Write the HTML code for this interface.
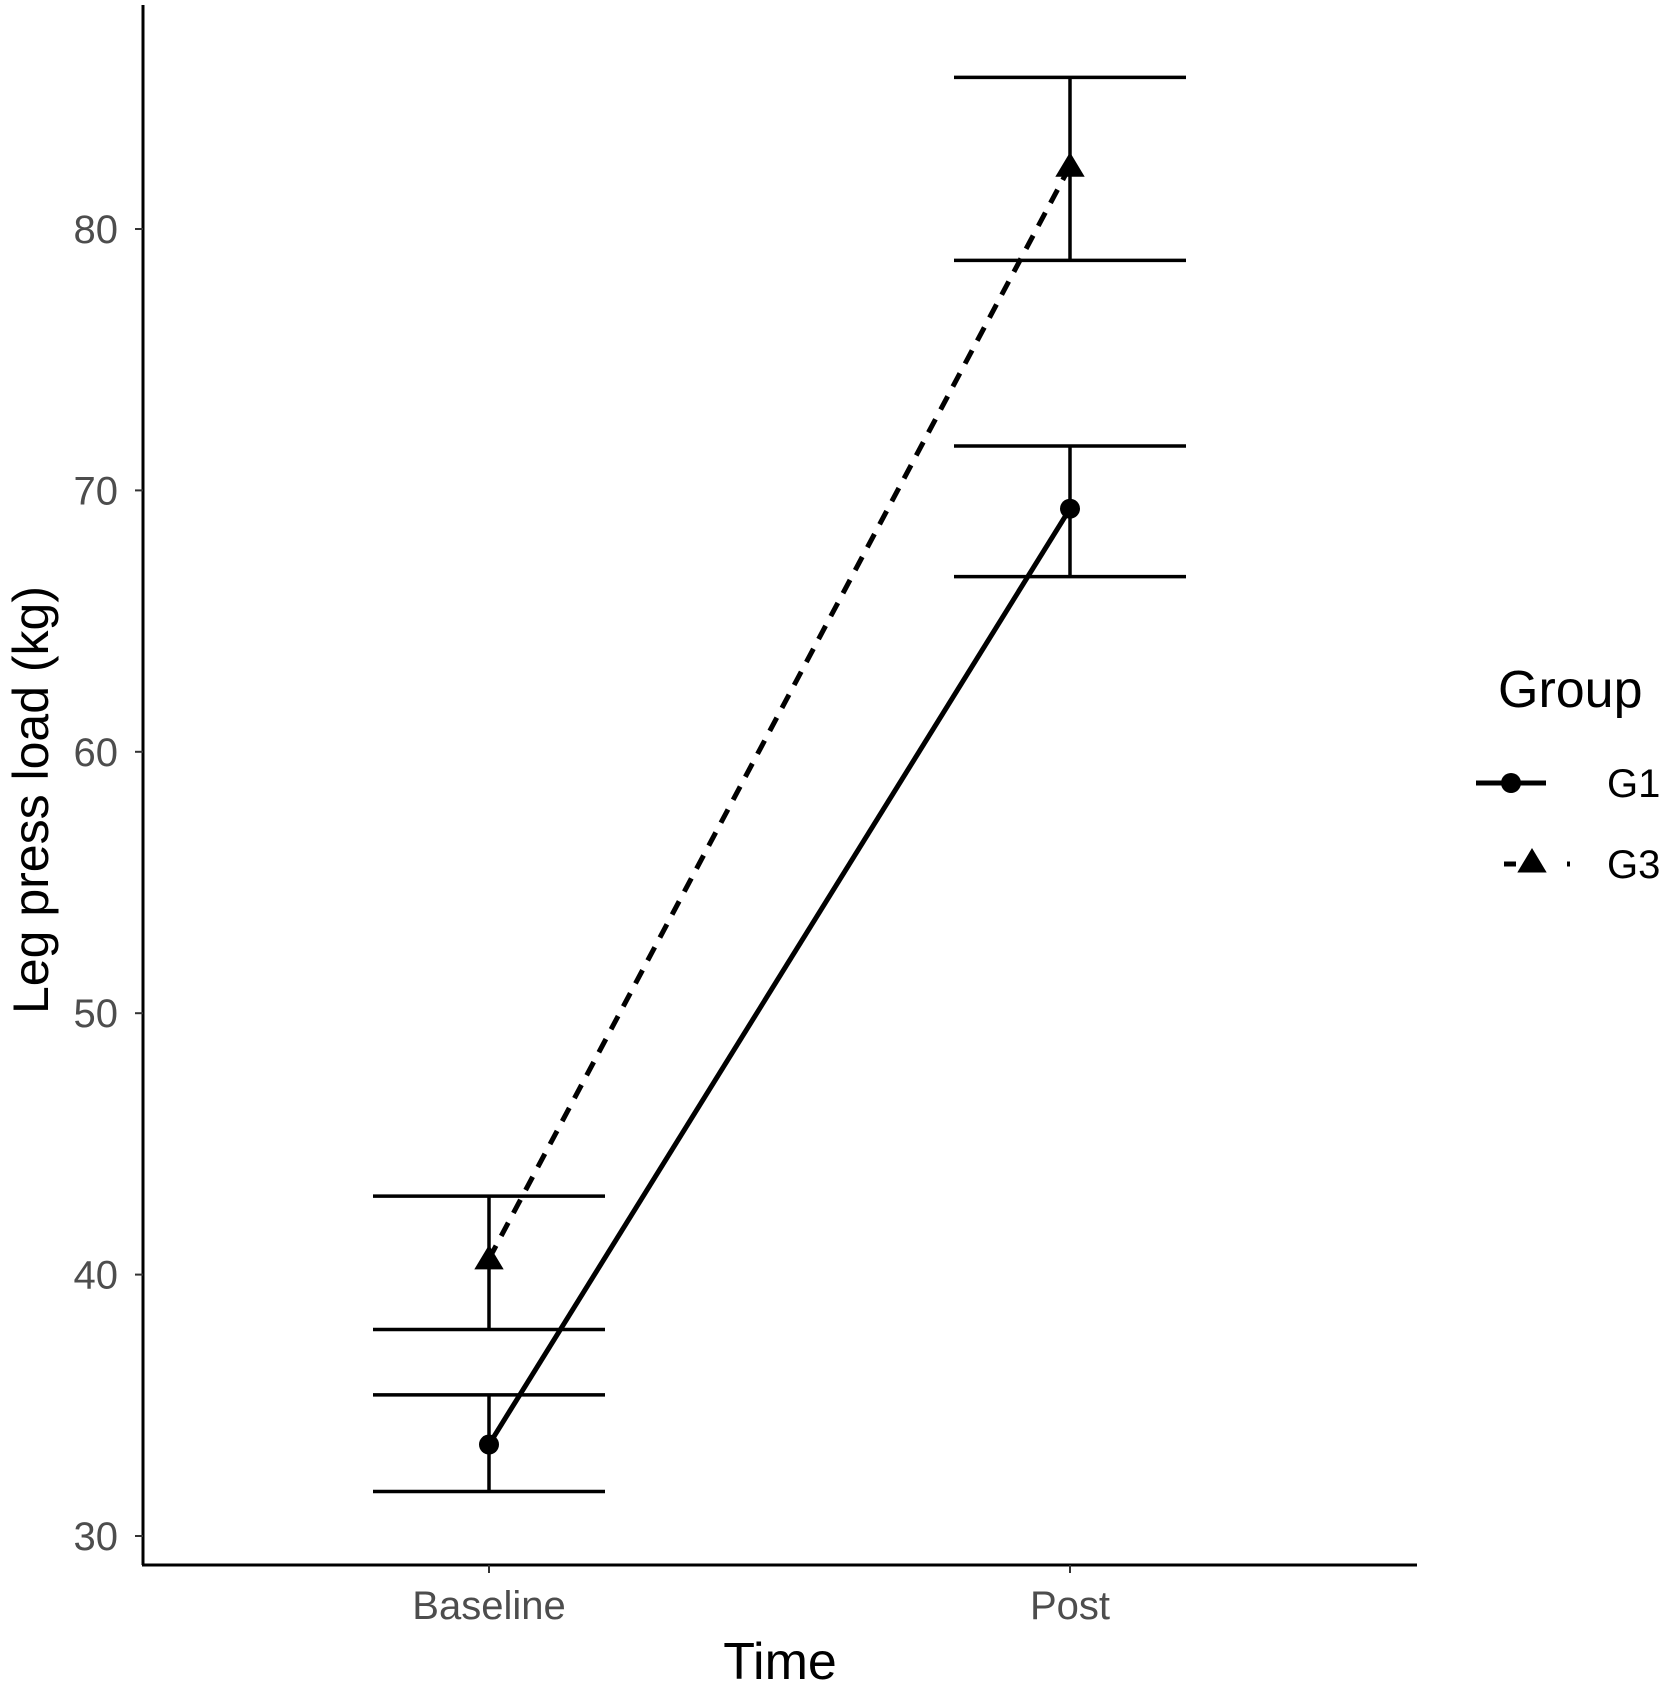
<!DOCTYPE html>
<html><head><meta charset="utf-8"><style>body{margin:0;background:#fff}svg{display:block;font-family:"Liberation Sans",Arial,sans-serif}</style></head>
<body>
<svg id="chart" width="1667" height="1685" viewBox="0 0 1667 1685"></svg>
<script>
const categories=["Baseline","Post"];
const g1Mean=[33.5,69.3];
const g1Low=[31.7,66.7];
const g1High=[35.4,71.7];
const g3Mean=[40.6,82.4];
const g3Low=[37.9,78.8];
const g3High=[43.0,85.8];
const yTicks=[30,40,50,60,70,80];
const NS="http://www.w3.org/2000/svg";
const svg=document.getElementById('chart');
const xPos=[489,1070];
function x(i){return xPos[0]+(xPos[1]-xPos[0])*i;}
function y(v){return 1536-(v-30)*26.14;}
function el(t,a,p){const e=document.createElementNS(NS,t);for(const k in a)e.setAttribute(k,a[k]);(p||svg).appendChild(e);return e;}
let e;
e=el('line',{x1:143,y1:5,x2:143,y2:1565,stroke:'#000','stroke-width':3});


e=el('line',{x1:142,y1:1565,x2:1417,y2:1565,stroke:'#000','stroke-width':3});


yTicks.forEach(v=>{
 e=el('line',{x1:135,y1:y(v),x2:143,y2:y(v),stroke:'#333','stroke-width':2});
 
 
 e=el('text',{x:118,y:y(v)+14,'text-anchor':'end','font-size':40,fill:'#4d4d4d'});
 e.textContent=v;
 
 
});
categories.forEach((c,i)=>{
 e=el('line',{x1:x(i),y1:1565,x2:x(i),y2:1573,stroke:'#333','stroke-width':2});
 
 
 e=el('text',{x:x(i),y:1619,'text-anchor':'middle','font-size':40,fill:'#4d4d4d'});
 e.textContent=c;
 
 
});
e=el('text',{x:780,y:1679,'text-anchor':'middle','font-size':52,fill:'#000'});
e.textContent='Time';


e=el('text',{x:0,y:0,'text-anchor':'middle','font-size':50,fill:'#000',transform:'translate(48,800) rotate(-90)'});
e.textContent='Leg press load (kg)';


function errbars(lo,hi,name){
 lo.forEach((l,i)=>{
  const g=el('g',{stroke:'#000','stroke-width':3.5});
  
  
  el('line',{x1:x(i),y1:y(l),x2:x(i),y2:y(hi[i])},g);
  el('line',{x1:x(i)-116,y1:y(l),x2:x(i)+116,y2:y(l)},g);
  el('line',{x1:x(i)-116,y1:y(hi[i]),x2:x(i)+116,y2:y(hi[i])},g);
 });
}
errbars(g1Low,g1High,'g1');
errbars(g3Low,g3High,'g3');
e=el('polyline',{points:g1Mean.map((v,i)=>x(i)+','+y(v)).join(' '),fill:'none',stroke:'#000','stroke-width':5});


e=el('polyline',{points:g3Mean.map((v,i)=>x(i)+','+y(v)).join(' '),fill:'none',stroke:'#000','stroke-width':5,'stroke-dasharray':'15,11'});


g1Mean.forEach((v,i)=>{
 e=el('circle',{cx:x(i),cy:y(v),r:10,fill:'#000'});
 
 
});
function tri(cx,cy,s){return (cx)+','+(cy-s)+' '+(cx-s*1.05)+','+(cy+s*0.75)+' '+(cx+s*1.05)+','+(cy+s*0.75);}
g3Mean.forEach((v,i)=>{
 e=el('polygon',{points:tri(x(i),y(v),14),fill:'#000'});
 
 
});
e=el('text',{x:1498,y:707,'font-size':52,fill:'#000'});
e.textContent='Group';


const lg=el('g',{});


el('line',{x1:1476,y1:783,x2:1546,y2:783,stroke:'#000','stroke-width':5},lg);
el('circle',{cx:1511,cy:783,r:10,fill:'#000'},lg);
el('text',{x:1607,y:797,'font-size':40,fill:'#000'},lg).textContent='G1';
const lg3=el('g',{});


el('line',{x1:1504,y1:864,x2:1516,y2:864,stroke:'#000','stroke-width':5},lg3);
el('line',{x1:1567,y1:864,x2:1570,y2:864,stroke:'#000','stroke-width':5},lg3);
el('polygon',{points:tri(1532,862,14),fill:'#000'},lg3);
el('text',{x:1607,y:878,'font-size':40,fill:'#000'},lg3).textContent='G3';
</script>
</body></html>
